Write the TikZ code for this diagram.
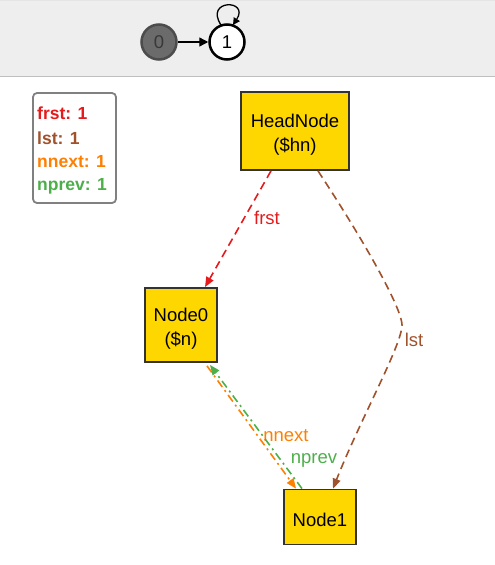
\documentclass[tikz,border=0pt]{standalone}
\usepackage{fontspec}
\setmainfont{Liberation Sans}
\usetikzlibrary{arrows.meta,calc}
\definecolor{cfrst}{HTML}{E41A1C}
\definecolor{clst}{HTML}{A0522D}
\definecolor{cnnext}{HTML}{FF7F00}
\definecolor{cnprev}{HTML}{4DAF4A}
\definecolor{gold}{HTML}{FFD700}
\definecolor{band}{HTML}{EEEEEE}
\tikzset{
  x=1pt,y=-1pt,
  box/.style={draw=black!80,line width=1.8pt,fill=gold,inner sep=0pt},
  boxtext/.style={align=center,inner sep=0pt,font=\fontsize{18.5}{24}\selectfont},
  lbl/.style={font=\fontsize{18.5}{20}\selectfont,inner sep=1pt},
  leg/.style={font=\bfseries\fontsize{17.5}{20}\selectfont,anchor=west,inner sep=0pt},
  edge/.style={line width=1.6pt,-{Triangle[length=10pt,width=8pt]}},
  st/.style={circle,minimum size=35pt,inner sep=0pt,line width=2.5pt,font=\fontsize{18.5}{20}\selectfont}
}
\begin{document}
\begin{tikzpicture}
\useasboundingbox (0,0) rectangle (495,565);
\fill[band] (0,0) rectangle (495,76);
\draw[black!25,line width=1pt] (0,76) -- (495,76);
\draw[black!10,line width=1pt] (0,0.5) -- (495,0.5);
% state graph
\node[st,draw=black!70,fill=black!58,text=black!78] (s0) at (159,42) {0};
\node[st,draw=black,fill=white] (s1) at (227,42) {1};
\draw[line width=1.3pt,-{Triangle[length=9pt,width=9pt]}] (s0) -- (s1);
\draw[line width=1.3pt,-{Triangle[length=7pt,width=7pt]}] ($(s1)+(-6,-17)$) .. controls (204,-1) and (250,-1) .. ($(s1)+(6,-17)$);
% legend
\draw[black!50,line width=1.8pt,rounded corners=4pt,fill=white] (33,93) rectangle (116,203);
\node[leg,text=cfrst] (l1) at (37,113) {frst: 1};
\node[leg,text=clst] (l2) at (37,138) {lst: 1};
\node[leg,text=cnnext] (l3) at (37,162) {nnext: 1};
\node[leg,text=cnprev] (l4) at (37,186) {nprev: 1};
% nodes
\node[box,minimum width=108pt,minimum height=78pt] (hn) at (295,131) {};
\node[boxtext] (hnt) at ($(hn.center)+(0,3.5)$) {HeadNode\\(\$hn)};
\node[box,minimum width=72pt,minimum height=74pt] (n0) at (181,325) {};
\node[boxtext] (n0t) at ($(n0.center)+(0,3.5)$) {Node0\\(\$n)};
\node[box,minimum width=72pt,minimum height=55pt] (n1) at (320,517) {};
\node[boxtext] (n1t) at ($(n1.center)+(0,3)$) {Node1};
% edges
\draw[edge,cfrst,dash pattern=on 8pt off 5pt] ($(hn.south)+(-24,0)$) -- ($(n0.north)+(24,0)$);
\node[lbl,text=cfrst] (lf) at (267,218) {frst};
\coordinate (lm) at (402,325);
\draw[edge,clst,dash pattern=on 8pt off 5pt] ($(hn.south)+(23,0)$) .. controls (370,250) and (402,310) .. (lm) .. controls (402,345) and (360,420) .. ($(n1.north)+(13,0)$);
\node[lbl,text=clst] (ll) at (414,340) {lst};
\draw[edge,cnnext,dash pattern=on 8pt off 4pt on 2pt off 4pt] ($(n0.south)+(26,3)$) -- ($(n1.north)+(-24,0)$);
\node[lbl,text=cnnext] (ln) at (286,436) {nnext};
\draw[edge,cnprev,dash pattern=on 8pt off 4pt on 2pt off 4pt] ($(n1.north)+(-18,0)$) -- ($(n0.south)+(29,2)$);
\node[lbl,text=cnprev] (lp) at (314,460) {nprev};
\end{tikzpicture}
\end{document}
